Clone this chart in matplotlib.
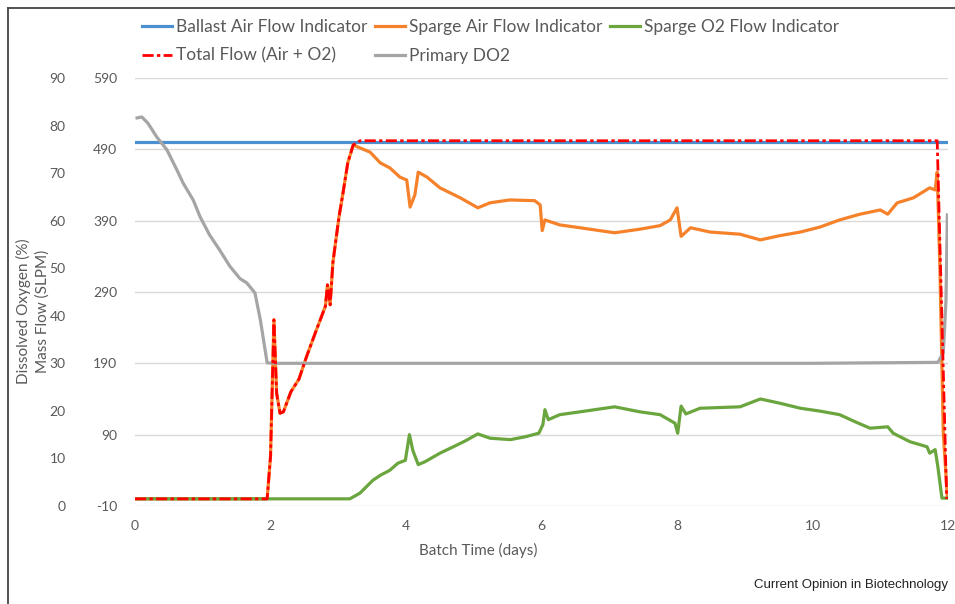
import matplotlib.pyplot as plt

# batch data, flows in SLPM, DO2 in %
ballast_days = [0, 12]
ballast_flow = [500, 500]

total_days = [0, 1.95, 2.0, 2.05, 2.09, 2.14, 2.19, 2.3, 2.42, 2.53, 2.67, 2.81, 2.84,
              2.88, 2.92, 3.01, 3.07, 3.14, 3.22, 3.32, 11.84, 11.98]
total_flow = [0, 0, 60, 251, 148, 120, 122, 150, 168, 199, 235, 270, 300,
              272, 331, 395, 429, 471, 496, 502, 502, 0]

air_days = [0, 1.95, 2.0, 2.05, 2.09, 2.14, 2.19, 2.3, 2.42, 2.53, 2.67, 2.81, 2.84,
            2.88, 2.92, 3.01, 3.07, 3.14, 3.22, 3.32, 3.47, 3.62, 3.76, 3.91, 4.01,
            4.06, 4.13, 4.18, 4.31, 4.5, 4.8, 5.06, 5.24, 5.53, 5.9, 5.98, 6.01,
            6.05, 6.27, 6.57, 6.86, 7.08, 7.45, 7.75, 7.9, 8.0, 8.06, 8.2, 8.49,
            8.93, 9.23, 9.52, 9.82, 10.11, 10.4, 10.7, 11.0, 11.11, 11.25, 11.49,
            11.73, 11.81, 11.84, 11.88, 11.93, 11.99]
air_flow = [0, 0, 60, 251, 148, 120, 122, 150, 168, 199, 235, 270, 300,
            272, 331, 395, 429, 471, 496, 492, 486, 471, 464, 451, 447,
            409, 426, 458, 451, 436, 422, 408, 415, 419, 418, 412, 376,
            391, 384, 380, 376, 373, 378, 383, 391, 408, 368, 380, 374,
            371, 363, 369, 374, 381, 391, 399, 405, 399, 415, 422,
            436, 433, 458, 325, 92, 3]

o2_days = [0, 3.17, 3.32, 3.51, 3.62, 3.76, 3.88, 3.99, 4.05, 4.1, 4.18, 4.28, 4.5,
           4.72, 4.87, 5.06, 5.24, 5.54, 5.76, 5.96, 6.02, 6.05, 6.1, 6.27, 6.57,
           6.86, 7.08, 7.45, 7.75, 7.97, 8.01, 8.06, 8.13, 8.34, 8.93, 9.23, 9.52,
           9.82, 10.11, 10.4, 10.63, 10.85, 11.11, 11.19, 11.44, 11.69, 11.73,
           11.81, 11.85, 11.91, 11.99]
o2_flow = [0, 0, 8, 26, 33, 40, 50, 54, 90, 68, 48, 52, 64,
           74, 81, 91, 85, 83, 87, 92, 104, 125, 111, 118, 122,
           126, 129, 122, 118, 106, 92, 130, 119, 127, 129, 140, 134,
           127, 123, 118, 108, 99, 101, 92, 80, 73, 64,
           69, 45, 1, 1]

do2_days = [0.03, 0.1, 0.19, 0.32, 0.47, 0.62, 0.71, 0.86, 0.96, 1.1, 1.25, 1.4,
            1.55, 1.65, 1.77, 1.85, 1.95, 2.1, 4.0, 6.0, 8.0, 10.0, 11.85, 11.93,
            11.97, 11.99]
do2 = [81.6, 81.8, 80.5, 77.6, 74.9, 70.6, 67.9, 64.3, 60.8, 57.0, 53.8, 50.4,
       47.8, 46.9, 44.8, 39.1, 30.1, 30.0, 30.0, 30.0, 30.0, 30.0, 30.2, 32.2,
       43.3, 61.2]

flow_ticks = list(range(-10, 591, 100))
do2_ticks = list(range(0, 91, 10))
day_ticks = list(range(0, 13, 2))

txt = '#595959'
plt.rcParams['font.family'] = ['Lato', 'DejaVu Sans']
plt.rcParams['axes.unicode_minus'] = False

fig = plt.figure(figsize=(9.55, 6.04), dpi=100)
ax = fig.add_axes([0.1414, 0.1623, 0.8513, 0.7086])

l_ballast, = ax.plot(ballast_days, ballast_flow, color='#4a8fd0', lw=2.3,
                     label='Ballast Air Flow Indicator')
l_air, = ax.plot(air_days, air_flow, color='#f5822a', lw=2.3,
                 label='Sparge Air Flow Indicator')
l_o2, = ax.plot(o2_days, o2_flow, color='#6aa53e', lw=2.3,
                label='Sparge O2 Flow Indicator')
# DO2 drawn on the flow scale: 0 % -> -10 SLPM, 90 % -> 590 SLPM
l_do2, = ax.plot(do2_days, [-10 + v * 600 / 90 for v in do2], color='#a5a5a5', lw=2.3,
                 label='Primary DO2')
l_total, = ax.plot(total_days, total_flow, color='#ff0000', lw=2.0,
                   dashes=[4, 1.2, 1.2, 1.2], label='Total Flow (Air + O2)')

ax.set_xlim(0, 12)
ax.set_ylim(-10, 590)
ax.set_yticks(flow_ticks)
ax.set_xticks(day_ticks)
ax.grid(axis='y', color='#d9d9d9', lw=1.0)
ax.set_axisbelow(True)
for s in ax.spines.values():
    s.set_visible(False)
ax.tick_params(length=0, labelsize=10, labelcolor=txt)
ax.tick_params(axis='y', pad=13)
ax.tick_params(axis='x', pad=10)

ax2 = ax.twinx()
ax2.set_ylim(0, 90)
ax2.set_yticks(do2_ticks)
ax2.yaxis.tick_left()
ax2.tick_params(length=0, labelsize=10, labelcolor=txt, pad=50)
for s in ax2.spines.values():
    s.set_visible(False)

fig.text(33 / 955, 0.485, 'Dissolved Oxygen (%)\nMass Flow (SLPM)', rotation=90,
         ha='center', va='center', multialignment='center', fontsize=11, color=txt,
         linespacing=1.4)
fig.text(478 / 955, 1 - 550 / 604, 'Batch Time (days)', ha='center', va='center',
         fontsize=11, color=txt)

handles = [l_ballast, l_total, l_air, l_do2, l_o2]
fig.legend(handles=handles, labels=[h.get_label() for h in handles], ncol=3,
           loc='upper left', bbox_to_anchor=(133 / 955, 1 - 10 / 604),
           frameon=False, fontsize=12.5, labelcolor=txt, handlelength=1.75,
           handletextpad=0.2, columnspacing=0.45, labelspacing=0.75, borderpad=0)

fig.text(948 / 955, 1 - 585 / 604, 'Current Opinion in Biotechnology', ha='right',
         va='center', fontsize=9.5, color='#222222', family='Liberation Sans')

# outer frame along the left and top edges
fig.add_artist(plt.Line2D([8 / 955, 8 / 955], [0, 1 - 8 / 604], color='#444444', lw=1.3,
                          transform=fig.transFigure))
fig.add_artist(plt.Line2D([8 / 955, 1], [1 - 8 / 604, 1 - 8 / 604], color='#444444', lw=1.3,
                          transform=fig.transFigure))

fig.savefig('out.png', dpi=100)
